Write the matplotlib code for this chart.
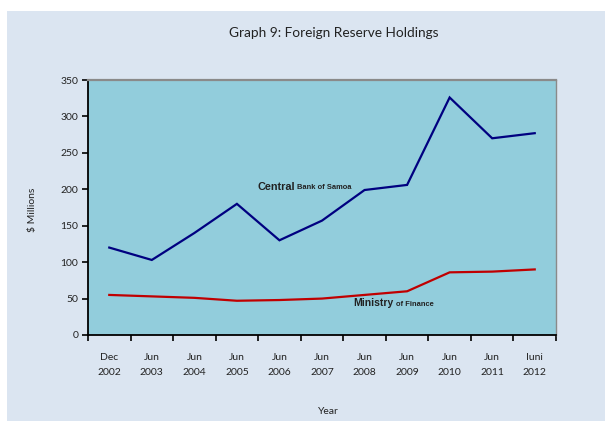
import matplotlib.pyplot as plt
from matplotlib.patches import Rectangle
from matplotlib.ticker import FixedLocator

# categories on the x axis (two-line labels)
periods = ["Dec\n2002", "Jun\n2003", "Jun\n2004", "Jun\n2005", "Jun\n2006", "Jun\n2007",
           "Jun\n2008", "Jun\n2009", "Jun\n2010", "Jun\n2011", "Iuni\n2012"]
# $ millions
central_bank = [120, 103, 140, 180, 130, 157, 199, 206, 326, 270, 277]
ministry = [55, 53, 51, 47, 48, 50, 55, 60, 86, 87, 90]
y_ticks = [0, 50, 100, 150, 200, 250, 300, 350]

plt.rcParams['font.family'] = ['Lato', 'DejaVu Sans']

fig = plt.figure(figsize=(6.05, 4.21), dpi=100)
fig.patch.set_facecolor('white')
# light panel behind the chart
fig.patches.append(Rectangle((7 / 605, 0), 1, 1 - 11 / 421, transform=fig.transFigure,
                             facecolor='#dbe5f1', edgecolor='none', zorder=-5))

ax = fig.add_axes([88 / 605, 1 - 335 / 421, (556 - 88) / 605, (335 - 80) / 421])
ax.set_zorder(2)
ax.set_facecolor('#92cddc')

x = list(range(len(periods)))
ax.plot(x, central_bank, color='#000080', lw=1.6, solid_joinstyle='miter')
ax.plot(x, ministry, color='#c00000', lw=1.6, solid_joinstyle='miter')

ax.set_xlim(-0.5, len(periods) - 0.5)
ax.set_ylim(0, 350)
ax.set_yticks(y_ticks)
ax.set_xticks(x)
ax.set_xticklabels(periods, fontsize=7.5, color='#222222', linespacing=1.85)
ax.xaxis.set_minor_locator(FixedLocator([i - 0.5 for i in range(len(periods) + 1)]))
ax.tick_params(axis='x', which='major', length=0, pad=13)
ax.tick_params(axis='x', which='minor', length=4, width=1.2, direction='out')
ax.tick_params(axis='y', length=4, width=1.2, direction='out', labelsize=7.5,
               labelcolor='#222222', pad=3)

for side in ['left', 'bottom']:
    ax.spines[side].set_color('black')
    ax.spines[side].set_linewidth(1.3)
for side in ['top', 'right']:
    ax.spines[side].set_color('#8a8a8a')
    ax.spines[side].set_linewidth(1.6 if side == 'top' else 1.0)

fig.text(334 / 605, 1 - 33 / 421, "Graph 9: Foreign Reserve Holdings", ha='center',
         va='center', fontsize=9.8, color='#222222')
fig.text(33 / 605, 1 - 210 / 421, "$ Millions", rotation=90, ha='center', va='center',
         fontsize=7.5, color='#222222')
fig.text(328 / 605, 1 - 412 / 421, "Year", ha='center', va='center', fontsize=7.5,
         color='#222222')

# series labels
lbl = dict(family='Liberation Sans', weight='bold', va='center', ha='left',
           color='#222222', zorder=5)
fig.text(257 / 605, 1 - 187 / 421, "Central", fontsize=7.8, **lbl)
fig.text(297 / 605, 1 - 188 / 421, "Bank of Samoa", fontsize=5.4, **lbl)
fig.text(353 / 605, 1 - 303 / 421, "Ministry", fontsize=7.5, **lbl)
fig.text(396 / 605, 1 - 304 / 421, "of Finance", fontsize=5.4, **lbl)

fig.savefig('out.png', dpi=100)
